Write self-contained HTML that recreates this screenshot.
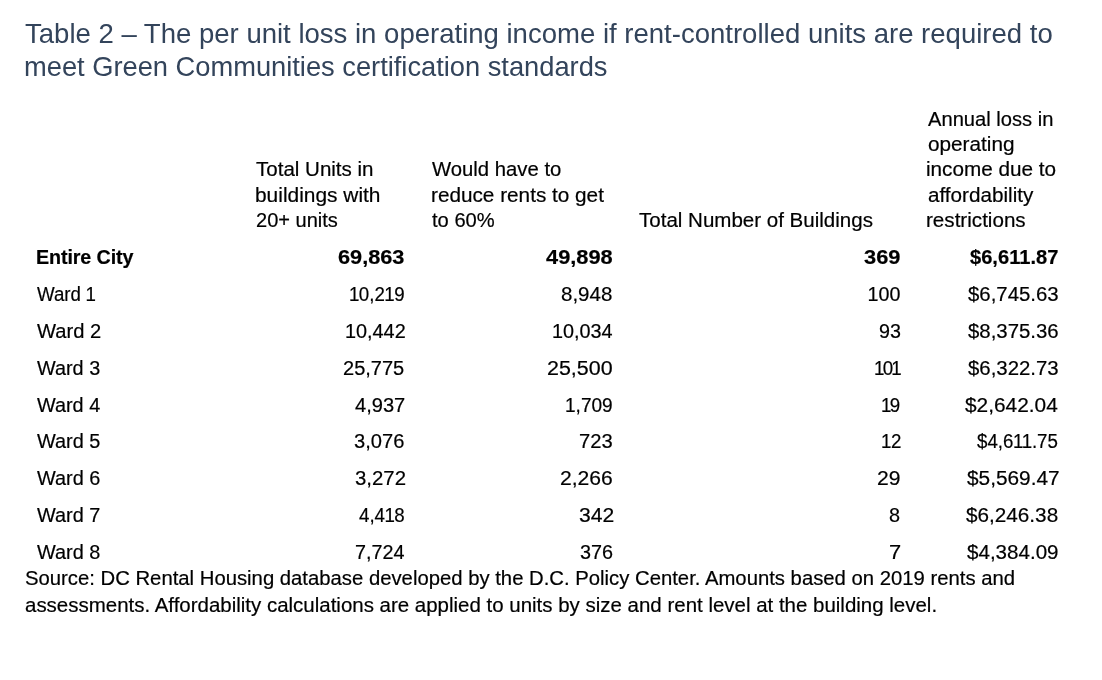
<!DOCTYPE html>
<html><head><meta charset="utf-8"><style>
html,body{margin:0;padding:0;background:#fff;width:1102px;height:680px;overflow:hidden;}
body{position:relative;will-change:transform;font-family:"Liberation Sans",sans-serif;color:#000;}
.t{position:absolute;white-space:nowrap;line-height:1;transform-origin:0 0;-webkit-text-stroke:0.2px currentColor;}
.ti{-webkit-text-stroke:0;}
</style></head><body>
<div class="t ti" style="left:25.00px;top:20.21px;font-size:27.3px;color:#33445b;transform:scaleX(1.0084);">Table 2 – The per unit loss in operating income if rent-controlled units are required to</div>
<div class="t ti" style="left:24.00px;top:52.80px;font-size:27.3px;color:#33445b;letter-spacing:-0.014px;">meet Green Communities certification standards</div>
<div class="t" style="left:256.00px;top:160.41px;font-size:19.7px;transform:scaleX(1.0425);">Total Units in</div>
<div class="t" style="left:254.94px;top:185.62px;font-size:19.7px;transform:scaleX(1.0616);">buildings with</div>
<div class="t" style="left:256.00px;top:210.81px;font-size:19.7px;transform:scaleX(1.0173);">20+ units</div>
<div class="t" style="left:431.80px;top:160.41px;font-size:19.7px;transform:scaleX(1.0307);">Would have to</div>
<div class="t" style="left:430.75px;top:185.62px;font-size:19.7px;transform:scaleX(1.0532);">reduce rents to get</div>
<div class="t" style="left:431.80px;top:210.81px;font-size:19.7px;transform:scaleX(1.0232);">to 60%</div>
<div class="t" style="left:639.10px;top:210.81px;font-size:19.7px;transform:scaleX(1.0428);">Total Number of Buildings</div>
<div class="t" style="left:927.50px;top:110.01px;font-size:19.7px;transform:scaleX(1.0236);">Annual loss in</div>
<div class="t" style="left:927.50px;top:135.21px;font-size:19.7px;transform:scaleX(1.0537);">operating</div>
<div class="t" style="left:926.45px;top:160.41px;font-size:19.7px;transform:scaleX(1.0520);">income due to</div>
<div class="t" style="left:927.50px;top:185.62px;font-size:19.7px;transform:scaleX(1.0500);">affordability</div>
<div class="t" style="left:926.45px;top:210.81px;font-size:19.7px;transform:scaleX(1.0473);">restrictions</div>
<div class="t" style="left:36.00px;top:248.21px;font-size:19.7px;font-weight:700;letter-spacing:-0.101px;">Entire City</div>
<div class="t" style="left:338.00px;top:248.21px;font-size:19.7px;font-weight:700;transform:scaleX(1.1034);">69,863</div>
<div class="t" style="left:546.00px;top:248.21px;font-size:19.7px;font-weight:700;transform:scaleX(1.1084);">49,898</div>
<div class="t" style="left:864.00px;top:248.21px;font-size:19.7px;font-weight:700;transform:scaleX(1.1095);">369</div>
<div class="t" style="left:969.80px;top:248.21px;font-size:19.7px;font-weight:700;transform:scaleX(1.0214);">$6,611.87</div>
<div class="t" style="left:37.00px;top:285.06px;font-size:19.7px;transform:scaleX(0.9500);">Ward<span style="letter-spacing:-0.723px"> </span>1</div>
<div class="t" style="left:348.95px;top:285.06px;font-size:19.7px;transform:scaleX(0.9500);"><span style="letter-spacing:-0.598px">1</span>0,<span style="letter-spacing:-0.598px">2</span><span style="letter-spacing:-0.598px">1</span>9</div>
<div class="t" style="left:561.40px;top:285.06px;font-size:19.7px;transform:scaleX(1.0422);">8,948</div>
<div class="t" style="left:867.60px;top:285.06px;font-size:19.7px;">100</div>
<div class="t" style="left:967.50px;top:285.06px;font-size:19.7px;transform:scaleX(1.0350);">$6,745.63</div>
<div class="t" style="left:37.00px;top:321.91px;font-size:19.7px;transform:scaleX(1.0231);">Ward 2</div>
<div class="t" style="left:344.79px;top:321.91px;font-size:19.7px;transform:scaleX(1.0074);">10,442</div>
<div class="t" style="left:552.19px;top:321.91px;font-size:19.7px;transform:scaleX(1.0056);">10,034</div>
<div class="t" style="left:878.50px;top:321.91px;font-size:19.7px;transform:scaleX(1.0023);">93</div>
<div class="t" style="left:967.50px;top:321.91px;font-size:19.7px;transform:scaleX(1.0350);">$8,375.36</div>
<div class="t" style="left:37.00px;top:358.76px;font-size:19.7px;transform:scaleX(1.0068);">Ward 3</div>
<div class="t" style="left:343.20px;top:358.76px;font-size:19.7px;transform:scaleX(1.0171);">25,775</div>
<div class="t" style="left:547.20px;top:358.76px;font-size:19.7px;transform:scaleX(1.0885);">25,500</div>
<div class="t" style="left:873.75px;top:358.76px;font-size:19.7px;transform:scaleX(0.9500);"><span style="letter-spacing:-1.870px">1</span><span style="letter-spacing:-1.870px">0</span>1</div>
<div class="t" style="left:967.50px;top:358.76px;font-size:19.7px;transform:scaleX(1.0350);">$6,322.73</div>
<div class="t" style="left:37.00px;top:395.62px;font-size:19.7px;transform:scaleX(1.0068);">Ward 4</div>
<div class="t" style="left:355.20px;top:395.62px;font-size:19.7px;transform:scaleX(1.0203);">4,937</div>
<div class="t" style="left:565.03px;top:395.62px;font-size:19.7px;transform:scaleX(0.9686);"><span style="letter-spacing:0.000px">1</span>,709</div>
<div class="t" style="left:881.25px;top:395.62px;font-size:19.7px;transform:scaleX(0.9500);"><span style="letter-spacing:-1.686px">1</span>9</div>
<div class="t" style="left:965.40px;top:395.62px;font-size:19.7px;transform:scaleX(1.0589);">$2,642.04</div>
<div class="t" style="left:37.00px;top:432.46px;font-size:19.7px;transform:scaleX(1.0100);">Ward 5</div>
<div class="t" style="left:354.10px;top:432.46px;font-size:19.7px;transform:scaleX(1.0219);">3,076</div>
<div class="t" style="left:579.07px;top:432.46px;font-size:19.7px;transform:scaleX(1.0251);">723</div>
<div class="t" style="left:881.05px;top:432.46px;font-size:19.7px;transform:scaleX(0.9500);"><span style="letter-spacing:-0.476px">1</span>2</div>
<div class="t" style="left:977.30px;top:432.46px;font-size:19.7px;transform:scaleX(0.9500);">$4,<span style="letter-spacing:-0.338px">6</span><span style="letter-spacing:-0.338px">1</span><span style="letter-spacing:-0.338px">1</span>.75</div>
<div class="t" style="left:37.00px;top:469.31px;font-size:19.7px;transform:scaleX(1.0100);">Ward 6</div>
<div class="t" style="left:354.50px;top:469.31px;font-size:19.7px;transform:scaleX(1.0348);">3,272</div>
<div class="t" style="left:559.90px;top:469.31px;font-size:19.7px;transform:scaleX(1.0726);">2,266</div>
<div class="t" style="left:877.00px;top:469.31px;font-size:19.7px;transform:scaleX(1.0707);">29</div>
<div class="t" style="left:966.60px;top:469.31px;font-size:19.7px;transform:scaleX(1.0573);">$5,569.47</div>
<div class="t" style="left:37.00px;top:506.16px;font-size:19.7px;transform:scaleX(1.0085);">Ward 7</div>
<div class="t" style="left:358.80px;top:506.16px;font-size:19.7px;transform:scaleX(0.9500);">4,<span style="letter-spacing:-0.606px">4</span><span style="letter-spacing:-0.606px">1</span>8</div>
<div class="t" style="left:578.60px;top:506.16px;font-size:19.7px;transform:scaleX(1.0722);">342</div>
<div class="t" style="left:889.40px;top:506.16px;font-size:19.7px;transform:scaleX(1.0091);">8</div>
<div class="t" style="left:966.00px;top:506.16px;font-size:19.7px;transform:scaleX(1.0521);">$6,246.38</div>
<div class="t" style="left:37.00px;top:543.01px;font-size:19.7px;transform:scaleX(1.0100);">Ward 8</div>
<div class="t" style="left:355.00px;top:543.01px;font-size:19.7px;transform:scaleX(1.0038);">7,724</div>
<div class="t" style="left:579.70px;top:543.01px;font-size:19.7px;transform:scaleX(1.0061);">376</div>
<div class="t" style="left:889.39px;top:543.01px;font-size:19.7px;transform:scaleX(1.1111);">7</div>
<div class="t" style="left:966.60px;top:543.01px;font-size:19.7px;transform:scaleX(1.0452);">$4,384.09</div>
<div class="t" style="left:25.00px;top:567.70px;font-size:20.1px;transform:scaleX(1.0095);">Source: DC Rental Housing database developed by the D.C. Policy Center. Amounts based on 2019 rents and</div>
<div class="t" style="left:25.00px;top:595.30px;font-size:20.1px;transform:scaleX(1.0186);">assessments. Affordability calculations are applied to units by size and rent level at the building level.</div>
</body></html>
